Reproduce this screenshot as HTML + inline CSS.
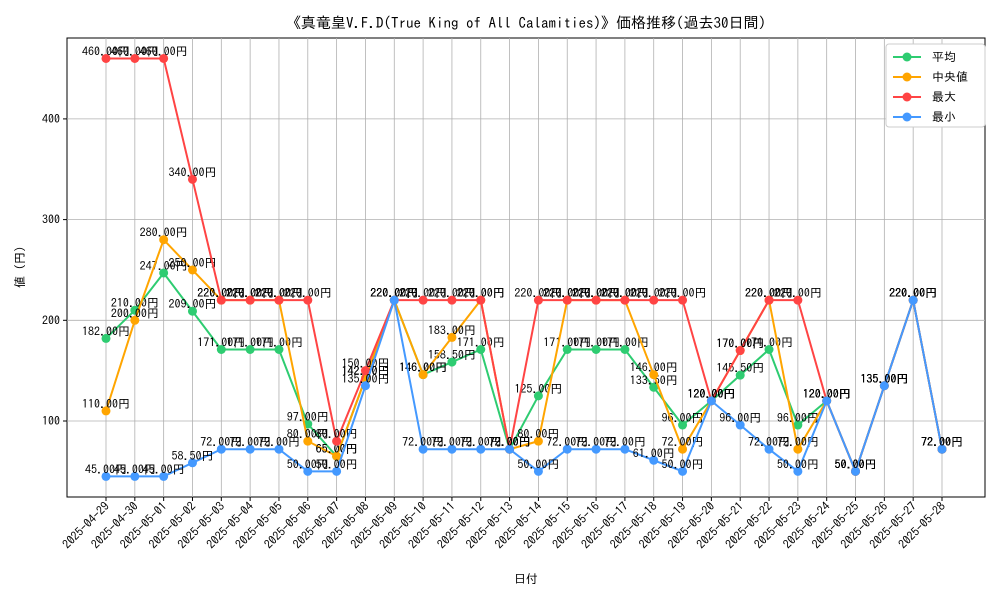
<!DOCTYPE html>
<html><head><meta charset="utf-8"><style>
body{margin:0;background:#fff}
svg text{font-family:"IPAGothic","Liberation Mono","Noto Sans CJK JP",monospace}
</style></head><body>
<svg id="c" width="1000" height="600" xmlns="http://www.w3.org/2000/svg"></svg>
<script>
const categories=["2025-04-29","2025-04-30","2025-05-01","2025-05-02","2025-05-03","2025-05-04","2025-05-05","2025-05-06","2025-05-07","2025-05-08","2025-05-09","2025-05-10","2025-05-11","2025-05-12","2025-05-13","2025-05-14","2025-05-15","2025-05-16","2025-05-17","2025-05-18","2025-05-19","2025-05-20","2025-05-21","2025-05-22","2025-05-23","2025-05-24","2025-05-25","2025-05-26","2025-05-27","2025-05-28"];
const meanValues=[182,210,247,209,171,171,171,97,65,142.5,220,146,158.5,171,72,125,171,171,171,133.5,96,120,145.5,171,96,120,50,135,220,72];
const medianValues=[110,200,280,250,220,220,220,80,65,142.5,220,146,183,220,72,80,220,220,220,146,72,120,170,220,72,120,50,135,220,72];
const maxValues=[460,460,460,340,220,220,220,220,80,150,220,220,220,220,72,220,220,220,220,220,220,120,170,220,220,120,50,135,220,72];
const minValues=[45,45,45,58.5,72,72,72,50,50,135,220,72,72,72,72,50,72,72,72,61,50,120,96,72,50,120,50,135,220,72];
const yTicks=[100,200,300,400];
const seriesNames=["平均","中央値","最大","最小"];

const svg=document.getElementById('c');const NS="http://www.w3.org/2000/svg";
function el(t,a,p){const e=document.createElementNS(NS,t);for(const k in a)e.setAttribute(k,a[k]);(p||svg).appendChild(e);return e;}
const L=67,R=985,T=38,B=497;
const x=i=>106+i*(942-106)/(categories.length-1);
const y=v=>421-(v-100)*1.007;
const frame=el('rect',{x:L,y:T,width:R-L,height:B-T,fill:'none',stroke:'#000','stroke-width':1});


categories.forEach((c,i)=>{
  const g=el('line',{x1:x(i),x2:x(i),y1:T,y2:B,stroke:'#b0b0b0','stroke-width':0.8});
  
  
  el('line',{x1:x(i),x2:x(i),y1:B,y2:B+4,stroke:'#000'});
  const t=el('text',{x:x(i)+4,y:B+10,'font-size':12,'text-anchor':'end',transform:`rotate(-45 ${x(i)+4} ${B+10})`});
  t.textContent=c;
  
  
});
yTicks.forEach(v=>{
  const g=el('line',{x1:L,x2:R,y1:y(v),y2:y(v),stroke:'#b0b0b0','stroke-width':0.8});
  
  
  el('line',{x1:L-4,x2:L,y1:y(v),y2:y(v),stroke:'#000'});
  const t=el('text',{x:L-7,y:y(v)+4,'font-size':12,'text-anchor':'end'});
  t.textContent=v;
  
  
});
const series=[[meanValues,'#2ecc71'],[medianValues,'#ffa500'],[maxValues,'#ff4444'],[minValues,'#4499ff']];
series.forEach(([vals,col],si)=>{
  const g=el('g',{});
  
  
  el('polyline',{points:vals.map((v,i)=>x(i)+','+y(v)).join(' '),fill:'none',stroke:col,'stroke-width':2},g);
  vals.forEach((v,i)=>{
    const p=el('circle',{cx:x(i),cy:y(v),r:4.5,fill:col},g);
    
    
    const t=el('text',{x:x(i),y:y(v)-3,'font-size':12,'text-anchor':'middle'},g);
    t.textContent=v.toFixed(2)+'円';
    
    
  });
});
const title=el('text',{x:526,y:28,'font-size':15,'text-anchor':'middle'});
title.textContent='《真竜皇V.F.D(True King of All Calamities)》価格推移(過去30日間)';


const xl=el('text',{x:526,y:583,'font-size':12,'text-anchor':'middle'});
xl.textContent='日付';


const yl=el('text',{x:24,y:267,'font-size':12,'text-anchor':'middle',transform:'rotate(-90 24 267)'});
yl.textContent='値 (円)';


const lg=el('g',{});


el('rect',{x:886,y:44,width:99,height:83,rx:3,fill:'#fff',stroke:'#ccc'},lg);
series.forEach(([v,col],i)=>{
  const yy=57+i*20;
  const e=el('g',{},lg);
  
  
  el('line',{x1:893,x2:921,y1:yy,y2:yy,stroke:col,'stroke-width':2},e);
  el('circle',{cx:907,cy:yy,r:4.5,fill:col},e);
  const t=el('text',{x:932,y:yy+4,'font-size':12},e);
  t.textContent=seriesNames[i];
});
</script>
</body></html>
